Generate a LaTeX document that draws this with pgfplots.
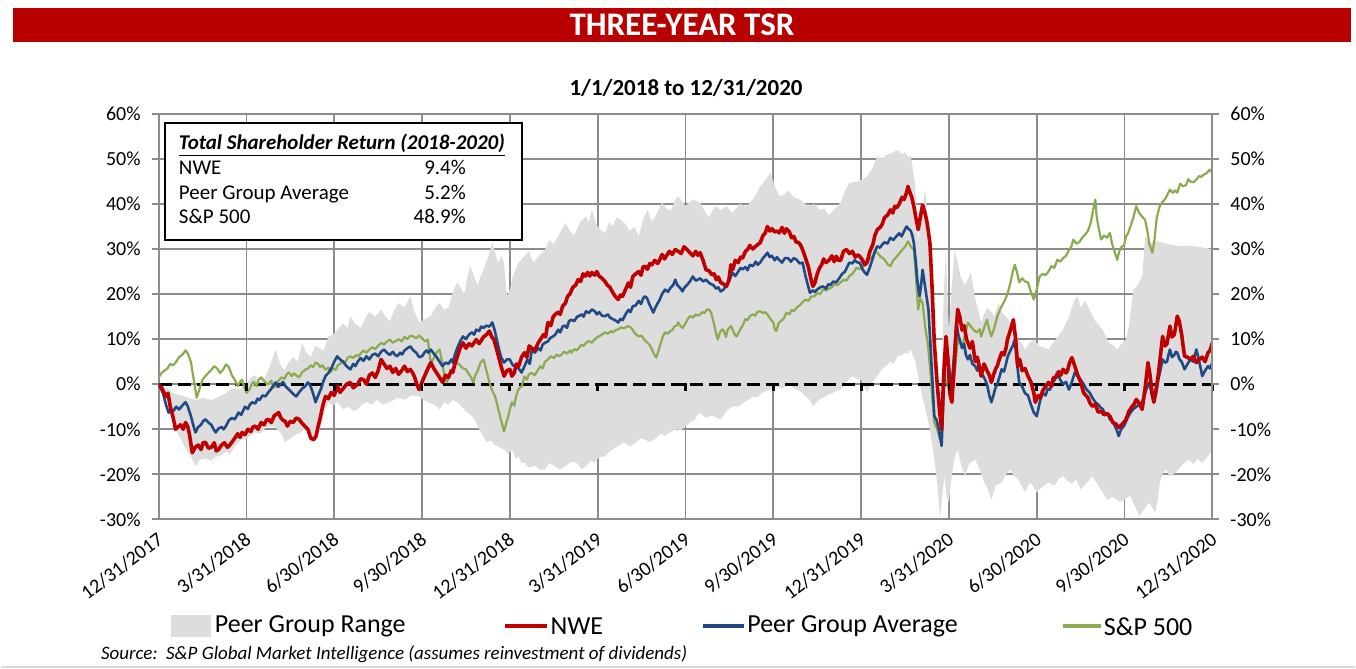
\documentclass[border=0pt]{standalone}
\usepackage{fontspec}
\setmainfont{Carlito}
\usepackage{pgfplots}
\pgfplotsset{compat=1.18}
\usepgfplotslibrary{fillbetween}

\definecolor{hdrred}{HTML}{B80000}
\definecolor{nwered}{HTML}{C00000}
\definecolor{peerblue}{HTML}{1F4A85}
\definecolor{spgreen}{HTML}{8CAB50}
\definecolor{rangegray}{HTML}{DDDDDD}
\definecolor{gridgray}{HTML}{8C8C8C}

\newcommand{\axw}{527.5pt}
\newcommand{\axh}{203pt}

\begin{document}
\begin{tikzpicture}
\path (-79pt,-74.5pt) rectangle (599pt,260pt);

% header bar
\fill[hdrred] (-73pt,239pt) rectangle (597pt,256pt);
\node[text=white, font=\fontsize{16.5}{18}\selectfont\bfseries] at (262pt,247.5pt) {THREE-YEAR TSR};
\node[font=\fontsize{11.5}{13}\selectfont\bfseries] at (264pt,216pt) {1/1/2018 to 12/31/2020};

\begin{axis}[
    at={(0,0)}, anchor=south west,
    scale only axis, width=\axw, height=\axh,
    xmin=0, xmax=36, ymin=-30, ymax=60,
    xtick={0,3,...,36},
    xticklabels={12/31/2017,3/31/2018,6/30/2018,9/30/2018,12/31/2018,3/31/2019,6/30/2019,9/30/2019,12/31/2019,3/31/2020,6/30/2020,9/30/2020,12/31/2020},
    ytick={-30,-20,...,60},
    yticklabels={-30\%,-20\%,-10\%,0\%,10\%,20\%,30\%,40\%,50\%,60\%},
    grid=major,
    grid style={gridgray, line width=0.9pt},
    axis line style={gridgray, line width=0.9pt},
    tick align=outside, major tick length=3.5pt,
    ytick style={gridgray, line width=0.9pt},
    xtick style={draw=none},
    yticklabel style={font=\fontsize{10}{12}\selectfont, xshift=-2pt},
    xticklabel style={font=\fontsize{10}{12}\selectfont, rotate=37, anchor=east, xshift=1pt, yshift=-5pt},
    /pgf/number format/assume math mode=true,
]
% peer group range: upper and lower bounds
\addplot[name path=up, draw=none, forget plot] coordinates {
(0,0) (0.3,-1) (0.5,-2) (0.8,-2.5) (1.0,-3) (1.3,-3.5) (1.5,-3) (1.8,-3.5) (2.0,-3) (2.3,-2)
(2.5,-1) (2.8,-1) (3.0,0) (3.15,1.5) (3.3,2) (3.45,0.5) (3.6,1) (3.8,4) (4.0,7.7) (4.15,4.5)
(4.3,3) (4.45,5) (4.6,6) (4.75,5) (4.9,9.2) (5.05,7) (5.2,6) (5.35,8.5) (5.5,8) (5.65,7.5)
(5.8,10.6) (5.95,11) (6.1,12) (6.3,13.5) (6.45,12.5) (6.55,15.1) (6.7,13.5) (6.9,12.5) (7.05,14.5) (7.2,16)
(7.4,15) (7.6,16.6) (7.75,15) (7.9,14) (8.05,16.5) (8.2,18) (8.4,17) (8.6,19.5) (8.75,16) (8.9,13.7)
(9.1,14.5) (9.3,15.1) (9.45,17) (9.6,18) (9.75,16.5) (9.9,17) (10.05,20.5) (10.2,22.6) (10.35,21) (10.45,20)
(10.55,24) (10.65,26.2) (10.8,23.5) (10.9,22) (11.0,24) (11.1,25.4) (11.25,28) (11.4,31.4) (11.5,29) (11.6,27)
(11.7,28.5) (11.8,27) (11.9,19.5) (12.0,21) (12.1,24) (12.3,27) (12.5,28.4) (12.65,29.5) (12.8,27) (13.0,28.5)
(13.2,29.9) (13.35,32) (13.5,31) (13.7,33.5) (13.9,35.8) (14.05,34) (14.2,33) (14.4,36) (14.6,37.2) (14.7,36)
(14.8,38.7) (14.9,36.5) (15.0,35) (15.1,34.2) (15.25,33.6) (15.4,36) (15.5,35) (15.65,37) (15.8,36.5) (15.95,35.5)
(16.1,34) (16.25,35) (16.4,32.8) (16.55,36.5) (16.7,38.7) (16.85,36) (16.95,37) (17.1,39) (17.2,40.3) (17.35,39)
(17.5,38.5) (17.65,41) (17.75,41.7) (17.9,40.5) (18.0,39.5) (18.25,41) (18.5,40.3) (18.65,38.5) (18.8,37) (19.0,39.5)
(19.2,38.7) (19.4,39.5) (19.6,38) (19.85,40) (20.1,39.5) (20.3,41) (20.45,42.5) (20.55,43.9) (20.7,45) (20.9,46.9)
(21.05,44) (21.2,41.7) (21.35,42) (21.5,43) (21.7,41.5) (21.9,41) (22.05,40.2) (22.2,39.5) (22.4,40) (22.6,38.7)
(22.75,39) (22.9,37.5) (23.1,39) (23.3,40.3) (23.45,43) (23.6,44.7) (23.9,45) (24.2,46.1) (24.4,48) (24.55,50.6)
(24.7,50) (24.9,51) (25.1,51.5) (25.25,52) (25.4,51) (25.5,51.5) (25.6,50.5) (25.7,50.6) (25.85,44) (25.95,31.4)
(26.05,38) (26.2,43.2) (26.3,35) (26.4,23.9) (26.55,1.8) (26.65,-2) (26.75,-0.4) (26.82,20) (26.9,30) (26.95,18)
(27.0,12) (27.1,22) (27.2,29.9) (27.3,27) (27.4,23.9) (27.55,22) (27.75,24.8) (27.9,19) (28.1,13.7) (28.2,15.5)
(28.3,17) (28.45,16) (28.55,15.1) (28.7,18) (28.8,16) (28.95,15) (29.1,13.7) (29.25,12) (29.35,10) (29.5,9)
(29.6,7.7) (29.75,9.2) (29.9,9.9) (30.1,8.5) (30.4,7.7) (30.6,9.5) (30.9,12.1) (31.1,15) (31.3,18.8) (31.4,19.5)
(31.5,17) (31.65,18.5) (31.8,16.6) (32.0,14) (32.25,12.1) (32.4,10) (32.5,9) (32.65,8.5) (32.75,7.7) (32.9,9)
(33.05,9.9) (33.15,13) (33.3,21) (33.45,22) (33.6,23.9) (33.65,28) (33.7,32.8) (33.9,31.4) (34.1,31.8) (34.3,31.4)
(34.6,31) (34.9,30.6) (35.2,30.8) (35.5,30.5) (35.8,30.2) (36.0,29.9)
};
\addplot[name path=lo, draw=none, forget plot] coordinates {
(0,0) (0.3,-4) (0.58,-10) (0.75,-12) (0.9,-14) (1.1,-16) (1.26,-18.2) (1.4,-16.8) (1.6,-16.5) (1.8,-17)
(1.95,-16) (2.15,-15.8) (2.3,-15) (2.45,-15.5) (2.6,-13.7) (2.8,-12.5) (3.0,-12) (3.15,-11.5) (3.3,-10.7) (3.45,-11)
(3.6,-10) (3.75,-9.5) (3.9,-9.3) (4.05,-10) (4.2,-11) (4.3,-12.8) (4.45,-12.3) (4.6,-11.5) (4.75,-11) (4.9,-10.5)
(5.0,-10) (5.1,-10.8) (5.2,-11) (5.36,-12.3) (5.5,-10) (5.6,-8) (5.7,-5.5) (5.8,-4) (5.95,-4.8) (6.1,-4)
(6.3,-5.5) (6.5,-5) (6.65,-6) (6.8,-5.6) (6.95,-4.5) (7.1,-4) (7.3,-4.5) (7.45,-3.4) (7.65,-4.5) (7.9,-4)
(8.15,-3) (8.4,-3.4) (8.65,-2.5) (8.9,-2.7) (9.05,-3.5) (9.2,-4) (9.4,-4.5) (9.6,-5.6) (9.75,-4) (9.9,-4.5)
(10.05,-3.5) (10.2,-4) (10.35,-5) (10.5,-6) (10.7,-7) (10.85,-8.5) (11.0,-10.5) (11.2,-12.9) (11.35,-12.5) (11.5,-13.5)
(11.65,-14) (11.8,-14.5) (11.95,-15.5) (12.07,-14.5) (12.2,-16.5) (12.3,-16) (12.4,-17.5) (12.5,-17.4) (12.65,-18.5) (12.85,-18)
(13.0,-19) (13.2,-18.9) (13.35,-17.5) (13.5,-18) (13.7,-19) (13.9,-18.2) (14.1,-17.2) (14.3,-17.5) (14.45,-18.8) (14.6,-18.2)
(14.75,-17) (14.9,-17.4) (15.05,-16.2) (15.25,-16) (15.4,-15) (15.6,-14) (15.75,-13.5) (15.9,-12.9) (16.1,-13.8) (16.3,-13)
(16.45,-12) (16.6,-12.3) (16.8,-12.8) (17.0,-12) (17.15,-11) (17.3,-11.5) (17.5,-10.5) (17.7,-10) (17.85,-10.2) (18.0,-9.3)
(18.15,-8.5) (18.3,-8) (18.4,-7) (18.5,-6.3) (18.7,-7.5) (18.85,-7) (19.0,-7.2) (19.2,-7.8) (19.4,-6) (19.6,-4.9)
(19.8,-5) (20.0,-4) (20.15,-3.5) (20.3,-2.7) (20.45,-3) (20.6,-2) (20.75,-1.5) (20.9,-1.2) (21.1,-0.5) (21.3,-1)
(21.45,-0.3) (21.6,-0.4) (21.75,-1) (21.9,-1.5) (22.0,-2) (22.1,-2.7) (22.25,-3.5) (22.35,-4.9) (22.45,-4.2) (22.55,-3.5)
(22.7,-3) (22.8,-2.7) (22.9,-2.2) (23.0,-2) (23.15,-1.5) (23.3,-1.2) (23.5,0.5) (23.7,1.8) (23.85,1.2) (24.0,1)
(24.1,-0.5) (24.2,-1.9) (24.3,-0.5) (24.45,1) (24.6,2.2) (24.7,3.3) (24.85,4) (25.0,5) (25.1,4.5) (25.25,6.2)
(25.4,6.5) (25.5,7) (25.6,6.8) (25.7,7.7) (25.85,5) (25.95,1.8) (26.1,-3) (26.2,-5.6) (26.35,-10) (26.5,-16.7)
(26.6,-22) (26.7,-30) (26.78,-24) (26.85,-20.4) (26.92,-25) (27.0,-26.2) (27.1,-20) (27.2,-16) (27.3,-14.5) (27.42,-18)
(27.55,-20.4) (27.7,-17.5) (27.9,-16.7) (28.05,-19) (28.2,-21.8) (28.32,-23) (28.45,-25.6) (28.6,-22.5) (28.8,-21.8) (28.95,-20)
(29.1,-18.9) (29.2,-20.2) (29.35,-21) (29.5,-22.8) (29.6,-24) (29.7,-22.5) (29.8,-21.8) (29.9,-23) (30.0,-24) (30.15,-23)
(30.4,-21.8) (30.6,-22.5) (30.75,-21) (30.9,-20.4) (31.05,-21.5) (31.2,-22) (31.35,-21.2) (31.5,-23.3) (31.7,-22) (31.9,-20.4)
(32.0,-21.5) (32.15,-23) (32.3,-24.5) (32.4,-25.6) (32.6,-25) (32.85,-26.2) (33.0,-25.5) (33.2,-24.8) (33.35,-27) (33.5,-29.3)
(33.7,-27.5) (33.85,-26.2) (33.95,-27.5) (34.05,-28.5) (34.15,-25) (34.2,-22) (34.3,-20) (34.4,-18.9) (34.55,-20.5) (34.75,-19.6)
(34.95,-18) (35.2,-16.7) (35.35,-17.8) (35.5,-16.5) (35.65,-17.4) (35.85,-16) (36.0,-14.5)
};
\addplot[rangegray, draw=none] fill between[of=up and lo];

% zero line with the category axis ticks
\addplot[black, line width=1.5pt, dash pattern=on 6.5pt off 3pt] coordinates {(0,0) (36,0)};
\addplot[black, line width=1.4pt, only marks, mark=|, mark size=2pt, mark options={yshift=-1.6pt}] coordinates {
(3,0) (6,0) (9,0) (12,0) (15,0) (18,0) (21,0) (24,0) (27,0) (30,0) (33,0) (36,0)};

% S&P 500
\addplot[spgreen, line width=1.1pt, line join=round] coordinates {
(0,1.5) (0.1,2.5) (0.2,3) (0.3,3.5) (0.4,4.5) (0.5,4.2) (0.6,5) (0.7,6) (0.8,6.5) (0.92,7.5)
(1.0,6.8) (1.1,5) (1.2,1) (1.3,-3.0) (1.4,-1) (1.5,1) (1.6,1.8) (1.7,2.5) (1.8,3.2) (1.9,4)
(2.0,3.5) (2.1,2.5) (2.2,3.2) (2.3,4.4) (2.4,3.8) (2.5,2) (2.6,1) (2.7,-0.4) (2.78,0.5) (2.85,1)
(2.92,-0.5) (3.0,-1.9) (3.1,-1.2) (3.18,0) (3.25,0.5) (3.35,-0.4) (3.42,1) (3.5,1.5) (3.6,0.8) (3.68,0.2)
(3.75,0) (3.85,0.8) (3.92,-0.8) (4.0,-0.4) (4.1,0.8) (4.2,1.5) (4.3,1.2) (4.38,2.2) (4.45,2.6) (4.55,1.8)
(4.62,2.4) (4.7,2) (4.8,1.5) (4.9,2.6) (5.0,3.2) (5.1,3.5) (5.2,4.2) (5.28,3.8) (5.36,4.8) (5.45,4.5)
(5.52,3.8) (5.6,4.2) (5.7,3.2) (5.8,3.7) (5.87,2.6) (5.95,3.5) (6.05,3.2) (6.12,4.2) (6.2,4.5) (6.3,5.2)
(6.38,4.8) (6.45,5.8) (6.55,6.2) (6.65,5.8) (6.75,6.5) (6.82,6.2) (6.9,6.8) (7.0,7.5) (7.1,7) (7.2,7.7)
(7.3,8.2) (7.4,7.8) (7.5,8.5) (7.6,9.2) (7.7,8.8) (7.8,9.5) (7.9,9.9) (8.0,9.2) (8.1,9.6) (8.2,10)
(8.3,9.5) (8.4,10.5) (8.5,10) (8.6,10.8) (8.7,10.6) (8.8,10.2) (8.9,10.8) (9.0,10.2) (9.1,9.5) (9.2,9.9)
(9.25,7) (9.3,4.8) (9.38,5.5) (9.45,6.5) (9.52,7.2) (9.6,7.7) (9.68,5) (9.75,2.5) (9.85,0.4) (9.92,2)
(10.0,3) (10.1,4) (10.2,4.8) (10.3,4.2) (10.4,3.5) (10.5,3.3) (10.6,2.2) (10.68,1.5) (10.75,0.4) (10.82,2)
(10.9,3) (11.0,4.8) (11.1,5.5) (11.2,3) (11.3,0.4) (11.4,-1.5) (11.48,-2.5) (11.55,-4) (11.62,-6) (11.7,-8)
(11.8,-10.5) (11.88,-8.5) (11.95,-7) (12.0,-5.5) (12.07,-4) (12.15,-4.8) (12.22,-2.5) (12.3,-1) (12.4,-0.5) (12.5,1.7)
(12.58,1) (12.65,2.2) (12.75,2.5) (12.85,2) (12.97,3.3) (13.05,4) (13.12,3.5) (13.2,5) (13.3,5.5) (13.4,6.2)
(13.5,5.8) (13.6,6.6) (13.68,6.2) (13.75,6.5) (13.85,7.2) (13.95,6.8) (14.05,7.5) (14.1,7) (14.2,7.8) (14.28,7.5)
(14.35,8) (14.45,8.8) (14.52,8.5) (14.6,9.2) (14.7,9.6) (14.8,9.2) (14.9,10) (15.0,10.5) (15.1,10.8) (15.18,11.2)
(15.25,11.5) (15.35,11.2) (15.45,11.8) (15.52,11.5) (15.6,12) (15.7,12.2) (15.8,12.6) (15.9,12.4) (16.05,12.9) (16.15,12.5)
(16.25,11.5) (16.32,11) (16.4,10.6) (16.5,10.8) (16.6,9.8) (16.7,9.2) (16.8,8.5) (16.9,7) (17.0,5.9) (17.08,7.5)
(17.15,9) (17.22,10.5) (17.3,11.5) (17.4,11.2) (17.48,11.8) (17.55,12) (17.62,12.8) (17.7,13) (17.75,13.7) (17.82,13)
(17.9,12.5) (18.0,13.5) (18.08,14.5) (18.15,15.1) (18.25,14.8) (18.35,15.5) (18.42,15.2) (18.5,15.5) (18.58,16) (18.65,15.8)
(18.72,16.5) (18.8,16.6) (18.88,15.8) (18.95,14) (19.02,12) (19.1,9.9) (19.18,11.5) (19.25,12.2) (19.3,12) (19.38,10.5)
(19.45,12.2) (19.55,12.9) (19.62,12) (19.68,11) (19.75,10.6) (19.82,11.5) (19.9,12.5) (19.95,13) (20.05,14.5) (20.12,14.2)
(20.2,15.1) (20.3,15.5) (20.38,15.2) (20.45,16) (20.55,16.2) (20.65,15.8) (20.72,16) (20.8,15.5) (20.9,14.5) (21.0,13.7)
(21.05,12.2) (21.1,11.8) (21.18,13.5) (21.25,14) (21.35,14.5) (21.45,15.9) (21.55,15.5) (21.62,16.5) (21.7,16.2) (21.8,17)
(21.9,17.5) (22.0,18.2) (22.1,18.8) (22.2,18.5) (22.3,19.5) (22.4,19.5) (22.5,20.2) (22.6,20) (22.7,21) (22.8,20.8)
(22.9,21.2) (23.0,21.5) (23.1,22.2) (23.2,22) (23.3,22.6) (23.4,23.2) (23.5,23) (23.6,24) (23.7,24.5) (23.78,25.2)
(23.85,25.9) (23.95,25.5) (24.05,26) (24.1,26.5) (24.2,27.2) (24.3,27.8) (24.4,28.5) (24.5,29.5) (24.6,28.8) (24.68,28.2)
(24.75,28) (24.85,27.2) (24.92,26.5) (25.0,26.2) (25.1,27.5) (25.2,28.2) (25.3,29) (25.4,29.8) (25.5,30.5) (25.6,31.7)
(25.7,30.5) (25.8,29.9) (25.87,24) (25.95,16.6) (26.02,19) (26.1,18) (26.15,15) (26.2,12.1) (26.28,9) (26.35,4)
(26.42,-2) (26.5,-8.5) (26.6,-10) (26.7,-12.3) (26.78,-5) (26.85,1.8) (26.92,0.5) (27.0,-1) (27.1,-2.7) (27.2,3)
(27.3,9.2) (27.38,10) (27.45,8) (27.55,11) (27.65,13.7) (27.75,12.8) (27.85,12) (27.95,11.5) (28.05,12.2) (28.1,10.6)
(28.2,12.5) (28.3,14.3) (28.38,12) (28.45,10.6) (28.55,12.5) (28.65,15) (28.72,16.2) (28.8,17.3) (28.9,18.5) (29.0,20)
(29.1,22.5) (29.18,25) (29.25,26.5) (29.32,25) (29.4,22.6) (29.5,23.5) (29.6,22.8) (29.7,22.6) (29.8,20.5) (29.9,18.8)
(29.98,20.5) (30.05,22.5) (30.1,23.9) (30.2,24.5) (30.3,24.2) (30.4,25) (30.5,26.2) (30.6,25.8) (30.7,27.6) (30.8,27.2)
(30.9,28) (31.0,28.5) (31.1,29.8) (31.18,30.5) (31.25,32.1) (31.35,31.2) (31.45,31.5) (31.55,32.5) (31.65,33.2) (31.75,34)
(31.85,36) (31.92,38.5) (32.0,41) (32.05,37) (32.12,34.5) (32.2,32.1) (32.3,33) (32.4,32.5) (32.5,33.6) (32.58,31)
(32.68,29) (32.75,27.6) (32.82,29.5) (32.9,30.5) (32.98,30.8) (33.05,32.8) (33.12,33.5) (33.2,35) (33.3,37) (33.4,39.5)
(33.5,38) (33.6,37.2) (33.7,36.5) (33.78,34) (33.85,31) (33.95,29.2) (34.02,32) (34.1,37) (34.2,39.5) (34.3,40.5)
(34.4,41.2) (34.47,42.2) (34.55,43.2) (34.65,42.5) (34.72,43) (34.8,42.5) (34.9,44.5) (35.0,43.9) (35.1,44.2) (35.18,45.5)
(35.25,45) (35.35,44.8) (35.45,45.4) (35.55,46.2) (35.62,46) (35.7,46.5) (35.8,46.8) (35.9,47.6) (35.95,47.2) (36.0,48)
};

% Peer Group Average
\addplot[peerblue, line width=1.3pt, line join=round] coordinates {
(0,0) (0.08,-1) (0.15,-2) (0.25,-4.5) (0.34,-6.3) (0.42,-5.8) (0.5,-6) (0.6,-5) (0.7,-5.6) (0.8,-4.8)
(0.92,-4) (1.0,-5) (1.1,-7) (1.18,-9) (1.26,-10.7) (1.35,-9.5) (1.45,-9) (1.52,-8.2) (1.6,-7.8) (1.7,-8.5)
(1.8,-9) (1.88,-10) (1.95,-10.7) (2.05,-9.8) (2.15,-9.5) (2.22,-10) (2.3,-9.3) (2.4,-8) (2.5,-7.5) (2.6,-7.8)
(2.73,-6.3) (2.82,-6.8) (2.95,-5) (3.05,-5.5) (3.12,-4.5) (3.2,-4) (3.3,-4.3) (3.38,-3.2) (3.45,-3.5) (3.55,-2.5)
(3.65,-2.7) (3.75,-1.8) (3.85,-1) (3.92,-0.3) (4.0,0.4) (4.08,-0.6) (4.15,-0.2) (4.25,0.5) (4.33,-0.4) (4.42,-1)
(4.5,-1.5) (4.6,-2.2) (4.7,-2.7) (4.8,-1.8) (4.9,-1) (5.0,-0.5) (5.1,0.4) (5.18,-0.3) (5.25,-1.5) (5.32,-3)
(5.36,-4) (5.45,-2.5) (5.55,-1) (5.62,0.5) (5.7,1.8) (5.8,2.5) (5.9,3.5) (6.0,5) (6.1,6.2) (6.2,5.5)
(6.3,5) (6.42,4) (6.55,3.3) (6.65,4.5) (6.72,4) (6.8,5) (6.9,5.8) (7.0,5.2) (7.1,6.2) (7.2,5.5)
(7.3,6.5) (7.4,6.8) (7.5,6.2) (7.6,7.2) (7.7,7.7) (7.8,7) (7.9,6.5) (8.0,7.2) (8.08,6.5) (8.15,6.2)
(8.25,7) (8.32,6.6) (8.4,7.5) (8.5,8) (8.6,8.4) (8.7,7.5) (8.8,7) (8.9,6) (9.0,6.2) (9.08,7)
(9.15,7.5) (9.22,7) (9.3,7.7) (9.4,6.8) (9.5,6) (9.6,5) (9.7,4) (9.8,4.8) (9.9,4.5) (10.0,5.5)
(10.05,4.8) (10.12,6.5) (10.2,8) (10.3,9.5) (10.4,10.6) (10.5,10) (10.6,11) (10.7,11.5) (10.78,11) (10.85,12.1)
(10.95,11.8) (11.02,12.8) (11.1,12.5) (11.2,13) (11.3,12.8) (11.4,13.7) (11.48,12) (11.55,10) (11.62,8) (11.7,6)
(11.8,4.8) (11.9,5.5) (12.0,5.5) (12.1,4.2) (12.2,4) (12.3,3.5) (12.4,2.6) (12.5,4) (12.6,5.5) (12.68,4.5)
(12.75,7.7) (12.85,7) (12.97,8) (13.05,7.5) (13.12,8.8) (13.2,9.2) (13.3,9.5) (13.38,10.3) (13.45,10.5) (13.55,11)
(13.65,12.1) (13.72,11.5) (13.8,12.8) (13.88,13) (13.95,12.5) (14.02,14) (14.1,14.3) (14.2,14) (14.3,15) (14.38,15.2)
(14.45,15.5) (14.52,15) (14.6,16.2) (14.7,15.8) (14.8,16.6) (14.9,16.2) (14.97,15.5) (15.05,16) (15.15,15.2) (15.25,15.1)
(15.35,15.5) (15.42,14.8) (15.5,14.5) (15.6,14.2) (15.7,13.7) (15.78,14.5) (15.85,14.2) (15.95,15.5) (16.05,16.5) (16.12,16)
(16.2,17.3) (16.3,17.5) (16.4,18.5) (16.48,17.8) (16.55,19) (16.6,19.5) (16.68,19.2) (16.75,18) (16.82,17) (16.9,15.9)
(16.97,17) (17.05,18) (17.1,18.5) (17.2,20) (17.3,21) (17.4,20.5) (17.5,21.5) (17.58,22) (17.65,23.2) (17.72,22)
(17.8,21.5) (17.9,20.6) (17.97,21.5) (18.05,22) (18.15,22.8) (18.25,23.9) (18.35,23) (18.42,23.2) (18.5,23.5) (18.6,22.8)
(18.7,23.2) (18.8,22.5) (18.88,22.2) (18.95,22) (19.05,21.2) (19.12,21.5) (19.2,20.6) (19.3,21) (19.4,22) (19.5,23)
(19.6,24.8) (19.7,24) (19.8,25) (19.88,25.8) (19.95,25.5) (20.05,26) (20.12,25.3) (20.2,26.5) (20.3,26.2) (20.4,27.2)
(20.47,26.5) (20.55,27) (20.65,28) (20.72,28.5) (20.8,29.2) (20.88,28.2) (20.95,28.5) (21.05,27.5) (21.12,28.2) (21.2,27.6)
(21.3,27) (21.4,28) (21.5,28) (21.6,27.2) (21.7,28) (21.8,27.6) (21.9,26.8) (22.0,27) (22.05,25.5) (22.1,24)
(22.18,22) (22.25,20.3) (22.35,20.8) (22.42,20.5) (22.5,21) (22.6,21.5) (22.7,21.7) (22.8,21.2) (22.88,22.2) (22.95,22)
(23.05,22.8) (23.15,22.6) (23.25,23.5) (23.35,24.5) (23.45,25) (23.52,26) (23.6,27) (23.7,26.8) (23.78,27.5) (23.88,27)
(23.95,27) (24.05,25.5) (24.12,24.8) (24.2,24.3) (24.3,26) (24.4,28) (24.47,29.5) (24.55,30.6) (24.65,30.3) (24.72,31)
(24.8,31.5) (24.9,31.2) (25.0,32.5) (25.1,32) (25.2,32.8) (25.3,33.5) (25.38,32.8) (25.47,34) (25.55,35) (25.62,34.5)
(25.7,34) (25.75,33) (25.8,31.4) (25.87,27) (25.92,23) (26.0,19.5) (26.05,22) (26.1,25.4) (26.2,21) (26.3,16.6)
(26.4,5) (26.5,-7.1) (26.58,-8) (26.65,-10) (26.75,-13.7) (26.82,-2) (26.9,9.2) (26.97,6) (27.03,2) (27.1,0.4)
(27.17,6) (27.25,13.7) (27.32,11) (27.38,9.5) (27.45,8) (27.52,9) (27.58,6.5) (27.65,5.5) (27.72,6.5) (27.8,4.5)
(27.9,4) (27.97,3) (28.03,4.2) (28.1,2.6) (28.2,1.5) (28.3,0) (28.38,-2.5) (28.45,-4) (28.52,-2.5) (28.58,-1)
(28.65,0) (28.72,1.5) (28.8,3.3) (28.88,2.8) (28.95,4.5) (29.0,6) (29.1,7.5) (29.18,8.5) (29.25,9.9) (29.32,5)
(29.4,0.4) (29.5,-0.5) (29.6,-2) (29.7,-2.5) (29.8,-4.5) (29.9,-6.3) (30.0,-7.1) (30.07,-5) (30.12,-3.5) (30.2,-1.9)
(30.3,-2.5) (30.38,-1) (30.45,-1.2) (30.55,0.5) (30.62,1) (30.7,2.6) (30.8,1) (30.9,0) (31.0,0.5) (31.1,-1.2)
(31.2,0.5) (31.3,2.6) (31.4,1.8) (31.5,1) (31.6,0) (31.7,-1.2) (31.8,-1.8) (31.9,-3) (32.0,-4) (32.1,-4.5)
(32.18,-5.2) (32.25,-5.5) (32.35,-6.8) (32.42,-6.5) (32.5,-7.8) (32.58,-8.2) (32.65,-9) (32.72,-10) (32.8,-11.5) (32.88,-10)
(32.95,-9.5) (33.0,-9) (33.1,-7.5) (33.2,-6.3) (33.3,-5.5) (33.4,-5) (33.5,-4.5) (33.6,-4) (33.7,-2) (33.78,-0.5)
(33.85,0.4) (33.92,-2) (34.0,-4) (34.08,-2) (34.15,1) (34.22,3) (34.3,5.5) (34.38,4.8) (34.45,5) (34.5,6.5)
(34.55,7.7) (34.62,6) (34.7,6.5) (34.75,7.2) (34.8,7) (34.88,5.5) (34.95,5) (35.05,3.3) (35.15,4.5) (35.25,5.5)
(35.35,5) (35.45,7.7) (35.5,6.5) (35.55,5) (35.62,3) (35.65,1.8) (35.75,3) (35.85,4) (35.92,3.5) (36.0,4.8)
};

% NWE
\addplot[nwered, line width=1.8pt, line join=round] coordinates {
(0,0) (0.12,-1) (0.24,-2.7) (0.32,-2) (0.4,-5) (0.5,-7.5) (0.58,-10) (0.66,-9.5) (0.75,-9) (0.84,-10)
(0.92,-8.5) (1.0,-9.5) (1.05,-11) (1.15,-15.2) (1.25,-14) (1.35,-13.5) (1.45,-14.5) (1.52,-13) (1.6,-12.9) (1.7,-14.2)
(1.8,-14) (1.9,-13) (1.97,-14.8) (2.05,-14.5) (2.15,-13.5) (2.25,-13) (2.35,-14) (2.42,-13.6) (2.5,-12.9) (2.6,-12)
(2.7,-11) (2.78,-11.8) (2.85,-10.7) (2.95,-11.2) (3.05,-10) (3.15,-10.5) (3.22,-9.5) (3.3,-9.3) (3.4,-10) (3.5,-8.5)
(3.6,-9) (3.68,-8) (3.75,-7.8) (3.85,-8.5) (3.95,-7) (4.1,-6.3) (4.18,-7.5) (4.25,-8) (4.32,-8.2) (4.4,-9.3)
(4.5,-8.2) (4.6,-8.5) (4.7,-7.5) (4.8,-7.8) (4.88,-8.5) (4.95,-9) (5.02,-9.5) (5.1,-10) (5.2,-12) (5.3,-12.3)
(5.38,-11.5) (5.45,-9.3) (5.52,-7.5) (5.6,-5) (5.7,-2.7) (5.8,-3.2) (5.9,-1.8) (6.0,-2.5) (6.1,-0.4) (6.2,-1.8)
(6.3,-1) (6.42,0) (6.55,0.4) (6.65,-0.8) (6.8,0) (6.9,1.2) (7.0,1) (7.1,0) (7.2,2) (7.3,2.5)
(7.4,1.5) (7.5,3) (7.6,5.5) (7.7,4.5) (7.8,3.5) (7.9,4) (8.0,2.6) (8.1,3.5) (8.2,2.2) (8.3,3)
(8.4,4) (8.5,2.8) (8.6,3.3) (8.68,2.5) (8.75,1.5) (8.82,0) (8.9,-1.2) (9.0,0.5) (9.1,2) (9.2,3.5)
(9.3,4.8) (9.4,3.5) (9.5,2.5) (9.6,1.5) (9.7,0.4) (9.8,2) (9.9,1.5) (10.0,3) (10.05,2.6) (10.12,4.5)
(10.2,6) (10.3,8) (10.4,9.2) (10.5,8) (10.6,9) (10.7,8.5) (10.85,9.9) (10.95,9) (11.1,10.5) (11.2,11)
(11.3,11.8) (11.38,10.5) (11.45,10) (11.55,7.7) (11.62,6) (11.7,4) (11.8,1.8) (11.9,3) (12.0,3.3) (12.07,1.8)
(12.15,2.5) (12.22,4.5) (12.3,4) (12.4,6) (12.5,7) (12.58,6) (12.66,8.5) (12.75,8) (12.85,7.5) (12.97,9.2)
(13.05,10) (13.15,11) (13.22,10.5) (13.3,13.7) (13.4,13) (13.48,15) (13.55,15.5) (13.65,16) (13.72,15.5) (13.8,17.3)
(13.9,18) (13.97,19.5) (14.05,20) (14.15,21.5) (14.25,22) (14.33,23.2) (14.42,22.8) (14.5,24.5) (14.58,24) (14.66,24.8)
(14.73,24) (14.8,24.8) (14.9,24.2) (14.97,25) (15.05,24) (15.15,23.5) (15.25,22.8) (15.33,22) (15.42,21.5) (15.5,20.5)
(15.6,19.5) (15.7,18.8) (15.78,19.8) (15.85,19.5) (15.95,21) (16.05,22.5) (16.12,21.5) (16.2,23.9) (16.3,24.5) (16.4,25)
(16.48,24.2) (16.55,26) (16.62,26.2) (16.7,25.5) (16.78,26.8) (16.85,26.5) (16.95,27.5) (17.05,26.8) (17.12,27.6) (17.2,28.8)
(17.28,27.8) (17.35,28.5) (17.45,29.5) (17.55,28.8) (17.65,29.9) (17.75,29.5) (17.85,29) (17.95,30.5) (18.05,29.9) (18.15,29.2)
(18.25,28.5) (18.35,29.5) (18.42,28.6) (18.5,29.2) (18.6,27.5) (18.7,25.4) (18.8,25.2) (18.9,24.3) (18.98,24.5) (19.05,23.2)
(19.12,23.8) (19.2,22.6) (19.3,22.2) (19.4,21.7) (19.48,23) (19.55,26.5) (19.62,25.5) (19.7,27.5) (19.8,27) (19.88,28.2)
(19.95,28) (20.05,29.5) (20.12,29.9) (20.2,30.8) (20.3,30) (20.38,30.5) (20.47,31) (20.55,31.4) (20.65,33) (20.72,33.5)
(20.8,35) (20.88,34) (20.95,34.5) (21.05,33.8) (21.12,34) (21.2,33.6) (21.3,34.8) (21.38,33.5) (21.45,34.5) (21.55,33.8)
(21.62,32.5) (21.7,32.8) (21.78,31.5) (21.85,31.5) (21.92,31) (22.0,29.9) (22.1,28) (22.2,26) (22.28,23.5) (22.35,21.7)
(22.42,22.5) (22.5,24.5) (22.58,25.8) (22.65,26.5) (22.72,27.8) (22.8,27) (22.9,27.5) (23.0,28.5) (23.08,27.2) (23.15,28.4)
(23.22,27.5) (23.3,27.5) (23.4,29.5) (23.5,29.9) (23.6,29) (23.7,29.5) (23.8,28.2) (23.88,28.7) (23.95,28.4) (24.05,27.5)
(24.12,26.5) (24.2,27) (24.3,29.5) (24.4,31) (24.47,33) (24.55,34.3) (24.65,34.8) (24.72,35.5) (24.8,37) (24.9,37.5)
(25.0,38.7) (25.08,38) (25.15,39.5) (25.22,39.2) (25.3,40) (25.4,41.5) (25.47,41) (25.55,42.5) (25.6,43.9) (25.67,42.5)
(25.73,41.5) (25.8,39.5) (25.87,37) (25.95,34.3) (26.02,37) (26.1,39.8) (26.18,38) (26.25,36) (26.35,31.4) (26.42,22)
(26.5,9.2) (26.6,0) (26.68,-6) (26.75,-10) (26.82,2) (26.9,10.6) (26.97,5) (27.03,-2) (27.1,-4) (27.18,4)
(27.25,12) (27.3,16.6) (27.37,15) (27.45,12) (27.52,13) (27.6,10) (27.65,9.2) (27.72,8) (27.8,9.5) (27.9,5)
(27.97,6) (28.05,3.5) (28.1,1.8) (28.2,4.5) (28.3,3) (28.38,2) (28.45,0.4) (28.52,2) (28.6,3.5) (28.65,4)
(28.72,5.5) (28.8,7) (28.88,6.5) (28.95,8) (29.0,10) (29.1,12) (29.2,14.3) (29.28,10) (29.35,4) (29.42,5.5)
(29.5,3) (29.6,3.5) (29.7,1.8) (29.8,0.5) (29.9,-1.9) (29.95,-4) (30.05,-2.5) (30.12,-3) (30.2,-1.5) (30.3,-0.5)
(30.4,0.4) (30.5,-0.5) (30.57,1.5) (30.65,1.5) (30.75,2.8) (30.82,2) (30.9,3.3) (31.0,2.5) (31.05,3) (31.12,4.8)
(31.2,5.9) (31.3,4) (31.4,2) (31.5,0.5) (31.6,-1.9) (31.68,-2.5) (31.75,-3) (31.82,-4.2) (31.9,-4.9) (32.0,-4.5)
(32.1,-6.2) (32.2,-6) (32.3,-6.8) (32.4,-6.5) (32.5,-7.1) (32.6,-8.5) (32.7,-8.8) (32.8,-9.6) (32.9,-9) (32.97,-8.5)
(33.05,-7.8) (33.15,-6) (33.25,-5) (33.32,-4.5) (33.4,-3.4) (33.5,-4.2) (33.6,-5.6) (33.7,-1) (33.8,4.8) (33.87,2)
(33.94,-2) (34.0,-4) (34.08,-1) (34.15,2) (34.22,6) (34.3,10.6) (34.38,8.5) (34.45,9) (34.55,12.9) (34.62,10.5)
(34.7,11) (34.75,13) (34.8,15.1) (34.87,14) (34.95,11) (35.0,8.5) (35.05,6.2) (35.15,6) (35.25,5.5) (35.35,6.2)
(35.45,4.8) (35.55,5.5) (35.65,6) (35.75,5) (35.85,7) (35.92,7.5) (36.0,9.2)
};
\end{axis}

% right-hand tick labels
\begin{axis}[
    at={(0,0)}, anchor=south west,
    scale only axis, width=\axw, height=\axh,
    xmin=0, xmax=36, ymin=-30, ymax=60,
    axis x line=none, axis y line*=right,
    axis line style={gridgray, line width=0.9pt},
    ytick={-30,-20,...,60},
    yticklabels={-30\%,-20\%,-10\%,0\%,10\%,20\%,30\%,40\%,50\%,60\%},
    tick align=outside, major tick length=3.5pt,
    ytick style={gridgray, line width=0.9pt},
    yticklabel style={font=\fontsize{10}{12}\selectfont, xshift=2pt},
]
\addplot[draw=none] coordinates {(0,0)};
\end{axis}

% summary box
\draw[black, line width=0.9pt, fill=white] (3pt,140pt) rectangle (182pt,198.5pt);
\begin{scope}[every node/.style={font=\fontsize{10.5}{12}\selectfont, inner sep=0pt}]
\node[anchor=base west, font=\fontsize{10.5}{12}\selectfont\bfseries\itshape] at (10pt,185pt) {\underline{Total Shareholder Return (2018-2020)}};
\node[anchor=base west] at (10pt,172.5pt) {NWE};
\node[anchor=base west] at (10pt,160pt) {Peer Group Average};
\node[anchor=base west] at (10pt,148pt) {S\&P 500};
\node[anchor=base east] at (154pt,172.5pt) {9.4\%};
\node[anchor=base east] at (154pt,160pt) {5.2\%};
\node[anchor=base east] at (154pt,148pt) {48.9\%};
\end{scope}

% legend
\begin{scope}[every node/.style={font=\fontsize{13}{15}\selectfont, anchor=west, inner xsep=1pt}]
\fill[rangegray] (6pt,-59pt) rectangle (26pt,-48pt);
\node at (27pt,-53.5pt) {Peer Group Range};
\draw[nwered, line width=2pt] (173.5pt,-53.5pt) -- (194.5pt,-53.5pt);
\node at (195pt,-53.5pt) {NWE};
\draw[peerblue, line width=2pt] (272.5pt,-53.5pt) -- (293pt,-53.5pt);
\node at (293.5pt,-53.5pt) {Peer Group Average};
\draw[spgreen, line width=2pt] (452.5pt,-53.5pt) -- (471.5pt,-53.5pt);
\node at (472pt,-53.5pt) {S\&P 500};
\end{scope}

\node[anchor=west, inner sep=0pt, font=\fontsize{9.5}{11}\selectfont\itshape] at (-29pt,-67.5pt) {Source:\ \ S\&P Global Market Intelligence (assumes reinvestment of dividends)};
\draw[gray!30, line width=0.8pt] (-79pt,-74pt) -- (599pt,-74pt);
\end{tikzpicture}
\end{document}
